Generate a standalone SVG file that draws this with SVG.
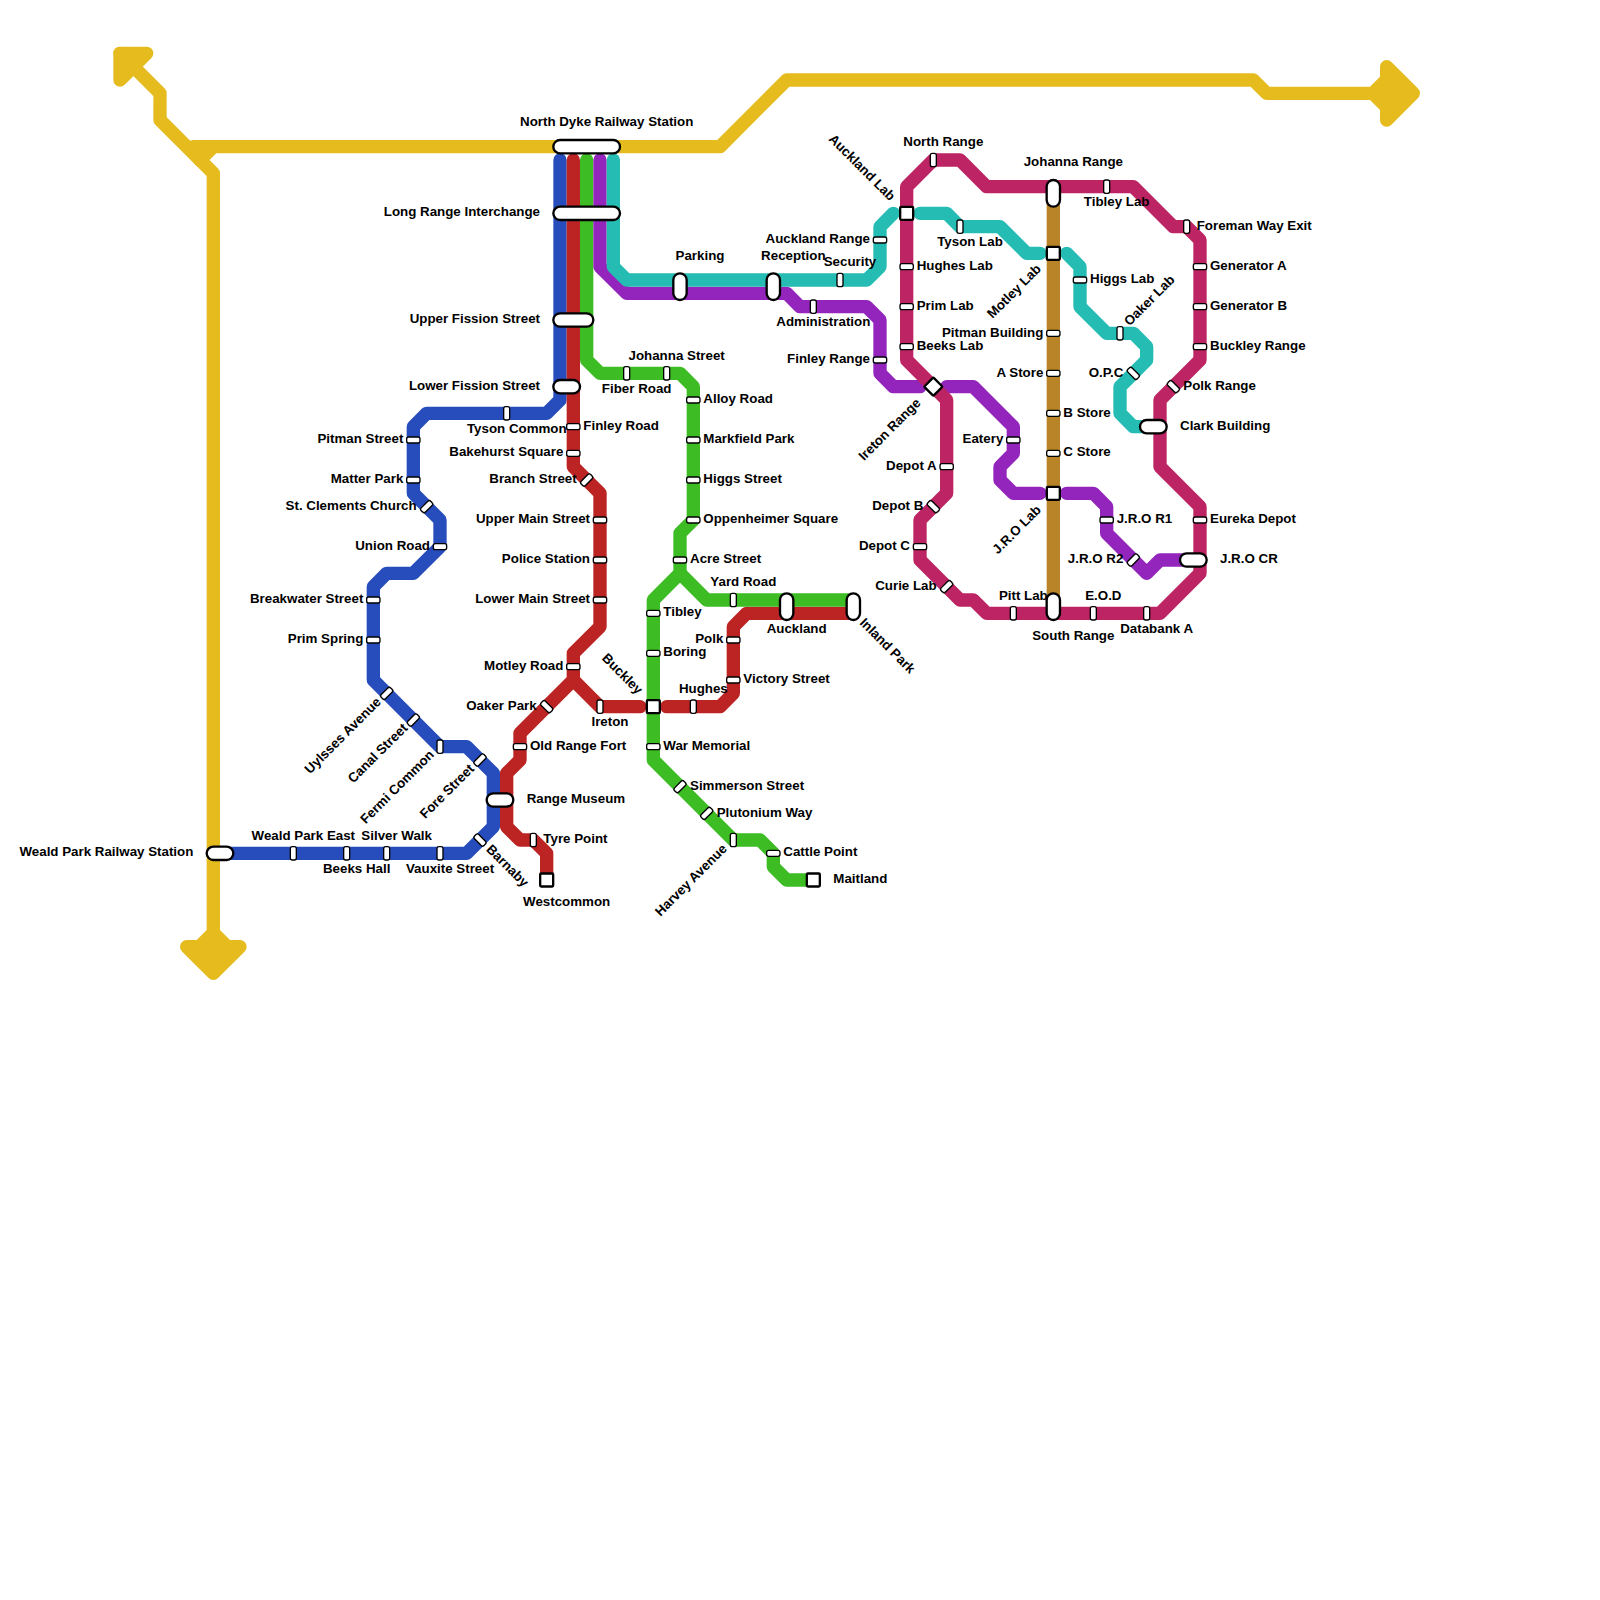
<svg xmlns="http://www.w3.org/2000/svg" width="1600" height="1600" viewBox="0 0 1600 1600">
<style>
.l{fill:none;stroke-width:13.33;stroke-linecap:round;stroke-linejoin:round}
.y{stroke:#e5bb1e}.b{stroke:#274dbc}.r{stroke:#bc2424}.g{stroke:#3dbc24}.p{stroke:#9324bc}.t{stroke:#24bcb3}.m{stroke:#bc2463}.o{stroke:#b88427}
.ya{fill:#e5bb1e;stroke:#e5bb1e;stroke-width:13.33;stroke-linejoin:round}
.yf{fill:#e5bb1e}
.s{fill:#fff;stroke:#000;stroke-width:1.33}
.i{fill:#fff;stroke:#000;stroke-width:2.33}
text{font-family:"Liberation Sans",Arial,sans-serif;font-weight:bold;font-size:13.33px;fill:#000}
.e{text-anchor:end}.c{text-anchor:middle}
</style>
<defs>
<rect id="h" class="s" x="-6.67" y="-3" width="13.33" height="6" rx="2"/>
<rect id="v" class="s" x="-6.67" y="-3" width="13.33" height="6" rx="2" transform="rotate(90)"/>
<rect id="u" class="s" x="-6.67" y="-3" width="13.33" height="6" rx="2" transform="rotate(-45)"/>
<rect id="d" class="s" x="-6.67" y="-3" width="13.33" height="6" rx="2" transform="rotate(45)"/>
<rect id="q" class="i" x="-6.5" y="-6.5" width="13" height="13" rx="1"/>
<rect id="w" class="i" x="-6.5" y="-6.5" width="13" height="13" rx="1" transform="rotate(45)"/>
<rect id="p2" class="i" x="-6.67" y="-6.67" width="26.67" height="13.33" rx="6.67"/>
<rect id="pv" class="i" x="-6.67" y="-6.67" width="13.33" height="26.67" rx="6.67"/>
</defs>
<g id="connectors">
<path class="l y" d="M120 53.33L160 93.33L160 120L213.33 173.33L213.33 946.67"/>
<path class="l y" d="M200 160L213.33 146.67L720 146.67L786.67 80L1253.33 80L1266.67 93.33L1386.67 93.33"/>
<path class="l y" d="M193.33 146.67L213.33 146.67"/>
<polygon class="ya" points="120,53.33 146.67,53.33 120,80"/>
<polygon class="ya" points="186.67,946.67 240,946.67 213.33,973.33"/>
<polygon class="yf" points="196.67,940 206.67,930 220,930 230,940"/>
<polygon class="ya" points="1386.67,66.67 1386.67,120 1413.33,93.33"/>
<polygon class="yf" points="1380,76.67 1370,86.67 1370,100 1380,110"/>
<path class="l b" d="M560 160L560 400L546.67 413.33L426.67 413.33L413.33 426.67L413.33 493.33L440 520L440 546.67L413.33 573.33L386.67 573.33L373.33 586.67L373.33 680L440 746.67L466.67 746.67L493.33 773.33L493.33 826.67L466.67 853.33L213.33 853.33"/>
<path class="l o" d="M1053.33 186.67L1053.33 613.33"/>
<path class="l r" d="M573.33 160L573.33 466.67L600 493.33L600 626.67L573.33 653.33L573.33 680L520 733.33L520 760L506.67 773.33L506.67 826.67L520 840L533.33 840L546.67 853.33L546.67 880"/>
<path class="l r" d="M573.33 680L600 706.67L640 706.67"/>
<path class="l r" d="M666.67 706.67L720 706.67L733.33 693.33L733.33 626.67L746.67 613.33L853.33 613.33"/>
<path class="l g" d="M586.67 160L586.67 360L600 373.33L680 373.33L693.33 386.67L693.33 520L680 533.33L680 573.33L653.33 600L653.33 760L733.33 840L760 840L773.33 853.33L773.33 866.67L786.67 880L813.33 880"/>
<path class="l g" d="M680 573.33L706.67 600L853.33 600"/>
<path class="l p" d="M600 160L600 266.67L626.67 293.33L786.67 293.33L800 306.67L866.67 306.67L880 320L880 373.33L893.33 386.67L920 386.67"/>
<path class="l p" d="M946.67 386.67L973.33 386.67L1013.33 426.67L1013.33 453.33L1000 466.67L1000 480L1013.33 493.33L1040 493.33"/>
<path class="l p" d="M1066.67 493.33L1093.33 493.33L1106.67 506.67L1106.67 533.33L1146.67 573.33L1160 560L1186.67 560"/>
<path class="l t" d="M613.33 160L613.33 266.67L626.67 280L866.67 280L880 266.67L880 226.67L893.33 213.33"/>
<path class="l t" d="M920 213.33L946.67 213.33L960 226.67L1000 226.67L1026.67 253.33L1040 253.33"/>
<path class="l t" d="M1066.67 253.33L1080 266.67L1080 306.67L1106.67 333.33L1133.33 333.33L1146.67 346.67L1146.67 360L1120 386.67L1120 413.33L1133.33 426.67L1146.67 426.67"/>
<path class="l m" d="M906.67 186.67L933.33 160L960 160L986.67 186.67L1133.33 186.67L1173.33 226.67L1186.67 226.67L1200 240L1200 360L1160 400L1160 466.67L1200 506.67L1200 573.33L1160 613.33L986.67 613.33L973.33 600L960 600L920 560L920 520L946.67 493.33L946.67 400L906.67 360Z"/>
</g>
<g id="stations">
<g id="north-dyke"><rect class="i" x="553.33" y="140" width="66.67" height="13.33" rx="6.67"/><text class="c" x="606.67" y="126.33">North Dyke Railway Station</text></g>
<g id="long-range"><rect class="i" x="553.33" y="206.67" width="66.67" height="13.33" rx="6.67"/><text class="e" x="540" y="216">Long Range Interchange</text></g>
<g id="upper-fission"><rect class="i" x="553.33" y="313.33" width="40" height="13.33" rx="6.67"/><text class="e" x="540" y="323">Upper Fission Street</text></g>
<g id="lower-fission"><use href="#p2" x="560" y="386.67"/><text class="e" x="540" y="390">Lower Fission Street</text></g>
<g id="weald"><use href="#p2" x="213.33" y="853.33"/><text class="e" x="193.33" y="856.33">Weald Park Railway Station</text></g>
<g id="weald-east"><use href="#v" x="293.33" y="853.33"/><text class="c" x="303.33" y="840">Weald Park East</text></g>
<g id="beeks-hall"><use href="#v" x="346.67" y="853.33"/><text class="c" x="356.67" y="873">Beeks Hall</text></g>
<g id="silver-walk"><use href="#v" x="386.67" y="853.33"/><text class="c" x="396.67" y="840">Silver Walk</text></g>
<g id="vauxite"><use href="#v" x="440" y="853.33"/><text class="c" x="450" y="873">Vauxite Street</text></g>
<g id="barnaby"><use href="#d" x="480" y="840"/><text transform="rotate(45 485.5 850)" x="485.5" y="850">Barnaby</text></g>
<g id="range-museum"><use href="#p2" x="493.33" y="800"/><text x="526.67" y="803.33">Range Museum</text></g>
<g id="fore"><use href="#u" x="480" y="760"/><text class="e" transform="rotate(-45 475 769.5)" x="475" y="769.5">Fore Street</text></g>
<g id="fermi"><use href="#v" x="440" y="746.67"/><text class="e" transform="rotate(-45 434.8 755.5)" x="434.8" y="755.5">Fermi Common</text></g>
<g id="canal"><use href="#u" x="413.33" y="720"/><text class="e" transform="rotate(-45 408.3 728.8)" x="408.3" y="728.8">Canal Street</text></g>
<g id="uylsses"><use href="#u" x="386.67" y="693.33"/><text class="e" transform="rotate(-45 381.7 702.8)" x="381.7" y="702.8">Uylsses Avenue</text></g>
<g id="prim-spring"><use href="#h" x="373.33" y="640"/><text class="e" x="363.33" y="643.33">Prim Spring</text></g>
<g id="breakwater"><use href="#h" x="373.33" y="600"/><text class="e" x="363.33" y="603.33">Breakwater Street</text></g>
<g id="union-road"><use href="#h" x="440" y="546.67"/><text class="e" x="430" y="550">Union Road</text></g>
<g id="st-clements"><use href="#u" x="426.67" y="506.67"/><text class="e" x="416.67" y="510">St. Clements Church</text></g>
<g id="matter-park"><use href="#h" x="413.33" y="480"/><text class="e" x="403.33" y="483.33">Matter Park</text></g>
<g id="pitman-street"><use href="#h" x="413.33" y="440"/><text class="e" x="403.33" y="443.33">Pitman Street</text></g>
<g id="tyson-common"><use href="#v" x="506.67" y="413.33"/><text class="e" x="566.67" y="433.33">Tyson Common</text></g>
<g id="finley-road"><use href="#h" x="573.33" y="426.67"/><text x="583.33" y="430">Finley Road</text></g>
<g id="bakehurst"><use href="#h" x="573.33" y="453.33"/><text class="e" x="563.33" y="456.33">Bakehurst Square</text></g>
<g id="branch-street"><use href="#u" x="586.67" y="480"/><text class="e" x="576.67" y="483.33">Branch Street</text></g>
<g id="upper-main"><use href="#h" x="600" y="520"/><text class="e" x="590" y="523.33">Upper Main Street</text></g>
<g id="police"><use href="#h" x="600" y="560"/><text class="e" x="590" y="563.33">Police Station</text></g>
<g id="lower-main"><use href="#h" x="600" y="600"/><text class="e" x="590" y="603.33">Lower Main Street</text></g>
<g id="motley-road"><use href="#h" x="573.33" y="666.67"/><text class="e" x="563.33" y="670">Motley Road</text></g>
<g id="oaker-park"><use href="#d" x="546.67" y="706.67"/><text class="e" x="536.67" y="710">Oaker Park</text></g>
<g id="old-range"><use href="#h" x="520" y="746.67"/><text x="530" y="750">Old Range Fort</text></g>
<g id="tyre-point"><use href="#v" x="533.33" y="840"/><text x="543.33" y="843.33">Tyre Point</text></g>
<g id="westcommon"><use href="#q" x="546.67" y="880"/><text class="c" x="566.67" y="906.33">Westcommon</text></g>
<g id="ireton"><use href="#v" x="600" y="706.67"/><text class="c" x="610" y="726.33">Ireton</text></g>
<g id="buckley"><use href="#q" x="653.33" y="706.67"/><text class="e" transform="rotate(45 637.3 695)" x="637.3" y="695">Buckley</text></g>
<g id="hughes"><use href="#v" x="693.33" y="706.67"/><text class="c" x="703.33" y="693.33">Hughes</text></g>
<g id="victory"><use href="#h" x="733.33" y="680"/><text x="743.33" y="683.33">Victory Street</text></g>
<g id="polk"><use href="#h" x="733.33" y="640"/><text class="e" x="723.33" y="643.33">Polk</text></g>
<g id="auckland"><use href="#pv" x="786.67" y="600"/><text class="c" x="796.67" y="633.33">Auckland</text></g>
<g id="inland-park"><use href="#pv" x="853.33" y="600"/><text transform="rotate(45 859 623.5)" x="859" y="623.5">Inland Park</text></g>
<g id="fiber-road"><use href="#v" x="626.67" y="373.33"/><text class="c" x="636.67" y="393.33">Fiber Road</text></g>
<g id="johanna-street"><use href="#v" x="666.67" y="373.33"/><text class="c" x="676.67" y="360">Johanna Street</text></g>
<g id="alloy"><use href="#h" x="693.33" y="400"/><text x="703.33" y="403.33">Alloy Road</text></g>
<g id="markfield"><use href="#h" x="693.33" y="440"/><text x="703.33" y="443.33">Markfield Park</text></g>
<g id="higgs-street"><use href="#h" x="693.33" y="480"/><text x="703.33" y="483.33">Higgs Street</text></g>
<g id="oppenheimer"><use href="#h" x="693.33" y="520"/><text x="703.33" y="523.33">Oppenheimer Square</text></g>
<g id="acre"><use href="#h" x="680" y="560"/><text x="690" y="563.33">Acre Street</text></g>
<g id="yard-road"><use href="#v" x="733.33" y="600"/><text class="c" x="743.33" y="586.33">Yard Road</text></g>
<g id="tibley"><use href="#h" x="653.33" y="613.33"/><text x="663.33" y="616.33">Tibley</text></g>
<g id="boring"><use href="#h" x="653.33" y="653.33"/><text x="663.33" y="656.33">Boring</text></g>
<g id="war-memorial"><use href="#h" x="653.33" y="746.67"/><text x="663.33" y="750">War Memorial</text></g>
<g id="simmerson"><use href="#u" x="680" y="786.67"/><text x="690" y="790.33">Simmerson Street</text></g>
<g id="plutonium"><use href="#u" x="706.67" y="813.33"/><text x="716.67" y="816.67">Plutonium Way</text></g>
<g id="harvey"><use href="#v" x="733.33" y="840"/><text class="e" transform="rotate(-45 727.8 849.5)" x="727.8" y="849.5">Harvey Avenue</text></g>
<g id="cattle"><use href="#h" x="773.33" y="853.33"/><text x="783.33" y="856.33">Cattle Point</text></g>
<g id="maitland"><use href="#q" x="813.33" y="880"/><text x="833.33" y="883.33">Maitland</text></g>
<g id="parking"><use href="#pv" x="680" y="280"/><text class="c" x="700" y="260">Parking</text></g>
<g id="reception"><use href="#pv" x="773.33" y="280"/><text class="c" x="793.33" y="260">Reception</text></g>
<g id="administration"><use href="#v" x="813.33" y="306.67"/><text class="c" x="823.33" y="326.33">Administration</text></g>
<g id="security"><use href="#v" x="840" y="280"/><text class="c" x="850" y="266.33">Security</text></g>
<g id="auckland-range"><use href="#h" x="880" y="240"/><text class="e" x="870" y="243">Auckland Range</text></g>
<g id="finley-range"><use href="#h" x="880" y="360"/><text class="e" x="870" y="363">Finley Range</text></g>
<g id="auckland-lab"><use href="#q" x="906.67" y="213.33"/><text class="e" transform="rotate(45 889.7 201.5)" x="889.7" y="201.5">Auckland Lab</text></g>
<g id="ireton-range"><use href="#w" x="933.33" y="386.67"/><text class="e" transform="rotate(-45 921.5 403.7)" x="921.5" y="403.7">Ireton Range</text></g>
<g id="eatery"><use href="#h" x="1013.33" y="440"/><text class="e" x="1003.33" y="443.33">Eatery</text></g>
<g id="jro-lab"><use href="#q" x="1053.33" y="493.33"/><text class="e" transform="rotate(-45 1041.8 510.8)" x="1041.8" y="510.8">J.R.O Lab</text></g>
<g id="jro-r1"><use href="#h" x="1106.67" y="520"/><text x="1116.67" y="523.33">J.R.O R1</text></g>
<g id="jro-r2"><use href="#u" x="1133.33" y="560"/><text class="e" x="1123.33" y="563.33">J.R.O R2</text></g>
<g id="jro-cr"><use href="#p2" x="1186.67" y="560"/><text x="1220" y="563.33">J.R.O CR</text></g>
<g id="tyson-lab"><use href="#v" x="960" y="226.67"/><text class="c" x="970" y="246.33">Tyson Lab</text></g>
<g id="motley-lab"><use href="#q" x="1053.33" y="253.33"/><text class="e" transform="rotate(-45 1041.8 269.8)" x="1041.8" y="269.8">Motley Lab</text></g>
<g id="higgs-lab"><use href="#h" x="1080" y="280"/><text x="1090" y="283.33">Higgs Lab</text></g>
<g id="oaker-lab"><use href="#v" x="1120" y="333.33"/><text transform="rotate(-45 1129.5 326.5)" x="1129.5" y="326.5">Oaker Lab</text></g>
<g id="opc"><use href="#d" x="1133.33" y="373.33"/><text class="e" x="1123.33" y="376.67">O.P.C</text></g>
<g id="clark"><use href="#p2" x="1146.67" y="426.67"/><text x="1180" y="430">Clark Building</text></g>
<g id="north-range"><use href="#v" x="933.33" y="160"/><text class="c" x="943.33" y="146.33">North Range</text></g>
<g id="johanna-range"><use href="#pv" x="1053.33" y="186.67"/><text class="c" x="1073.33" y="166.33">Johanna Range</text></g>
<g id="tibley-lab"><use href="#v" x="1106.67" y="186.67"/><text class="c" x="1116.67" y="206.33">Tibley Lab</text></g>
<g id="foreman"><use href="#v" x="1186.67" y="226.67"/><text x="1196.67" y="230">Foreman Way Exit</text></g>
<g id="generator-a"><use href="#h" x="1200" y="266.67"/><text x="1210" y="270">Generator A</text></g>
<g id="generator-b"><use href="#h" x="1200" y="306.67"/><text x="1210" y="310">Generator B</text></g>
<g id="buckley-range"><use href="#h" x="1200" y="346.67"/><text x="1210" y="350">Buckley Range</text></g>
<g id="polk-range"><use href="#d" x="1173.33" y="386.67"/><text x="1183.33" y="390">Polk Range</text></g>
<g id="eureka"><use href="#h" x="1200" y="520"/><text x="1210" y="523.33">Eureka Depot</text></g>
<g id="databank"><use href="#v" x="1146.67" y="613.33"/><text class="c" x="1156.67" y="633.33">Databank A</text></g>
<g id="eod"><use href="#v" x="1093.33" y="613.33"/><text class="c" x="1103.33" y="600">E.O.D</text></g>
<g id="south-range"><use href="#pv" x="1053.33" y="600"/><text class="c" x="1073.33" y="640">South Range</text></g>
<g id="pitt-lab"><use href="#v" x="1013.33" y="613.33"/><text class="c" x="1023.33" y="600">Pitt Lab</text></g>
<g id="curie-lab"><use href="#u" x="946.67" y="586.67"/><text class="e" x="936.67" y="590">Curie Lab</text></g>
<g id="depot-c"><use href="#h" x="920" y="546.67"/><text class="e" x="910" y="550">Depot C</text></g>
<g id="depot-b"><use href="#d" x="933.33" y="506.67"/><text class="e" x="923.33" y="510">Depot B</text></g>
<g id="depot-a"><use href="#h" x="946.67" y="466.67"/><text class="e" x="936.67" y="470">Depot A</text></g>
<g id="hughes-lab"><use href="#h" x="906.67" y="266.67"/><text x="916.67" y="270">Hughes Lab</text></g>
<g id="prim-lab"><use href="#h" x="906.67" y="306.67"/><text x="916.67" y="310">Prim Lab</text></g>
<g id="beeks-lab"><use href="#h" x="906.67" y="346.67"/><text x="916.67" y="350">Beeks Lab</text></g>
<g id="pitman-building"><use href="#h" x="1053.33" y="333.33"/><text class="e" x="1043.33" y="336.67">Pitman Building</text></g>
<g id="a-store"><use href="#h" x="1053.33" y="373.33"/><text class="e" x="1043.33" y="376.67">A Store</text></g>
<g id="b-store"><use href="#h" x="1053.33" y="413.33"/><text x="1063.33" y="416.67">B Store</text></g>
<g id="c-store"><use href="#h" x="1053.33" y="453.33"/><text x="1063.33" y="456.33">C Store</text></g>
</g>
</svg>
